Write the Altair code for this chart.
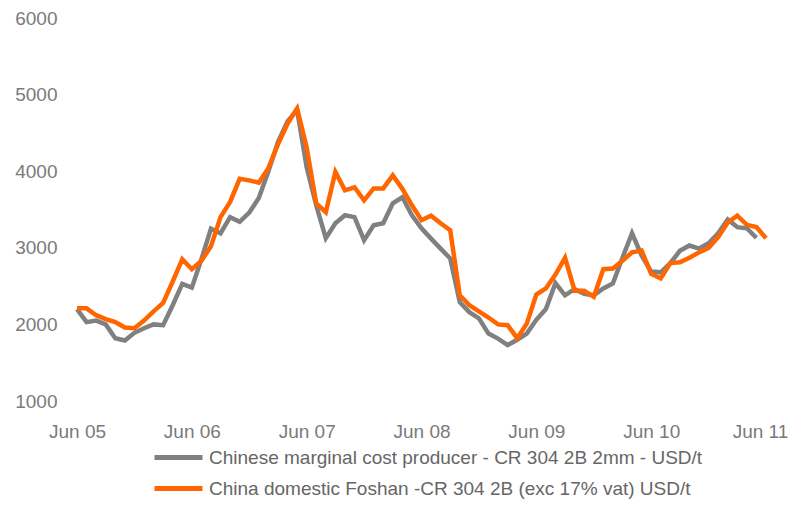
import altair as alt
import pandas as pd

series_names = [
    "Chinese marginal cost producer - CR 304 2B 2mm - USD/t",
    "China domestic Foshan -CR 304 2B (exc 17% vat) USD/t",
]
series_colors = ["#808080", "#FF6600"]

tick_labels = ["Jun 05", "Jun 06", "Jun 07", "Jun 08", "Jun 09", "Jun 10", "Jun 11"]

# Monthly values starting Jun 05
gray_values = [
    2200, 2030, 2050, 2000, 1820, 1790, 1890, 1950, 2000, 1990, 2250, 2530,
    2480, 2850, 3250, 3190, 3400, 3340, 3460, 3650, 4000, 4380, 4650, 4800,
    4050, 3555, 3125, 3320, 3425, 3400, 3100, 3295, 3320, 3580, 3660, 3425,
    3255, 3120, 2990, 2860, 2290, 2160, 2080, 1880, 1815, 1730, 1800, 1880,
    2060, 2200, 2540, 2380, 2460, 2400, 2380, 2470, 2535, 2870, 3190, 2900,
    2690, 2680, 2800, 2960, 3030, 2990, 3060, 3190, 3370, 3270, 3255, 3130,
]
orange_values = [
    2210, 2210, 2120, 2070, 2030, 1960, 1950, 2050, 2170, 2280, 2560, 2850,
    2720, 2830, 3020, 3400, 3600, 3900, 3880, 3850, 4040, 4350, 4620, 4820,
    4310, 3580, 3465, 3990, 3750, 3790, 3620, 3775, 3775, 3945, 3770, 3555,
    3360, 3420, 3320, 3230, 2380, 2250, 2170, 2090, 2000, 1990, 1820, 2010,
    2390, 2470, 2650, 2870, 2440, 2440, 2360, 2720, 2730, 2830, 2940, 2965,
    2660, 2600, 2800, 2810, 2870, 2940, 3000, 3140, 3330, 3420, 3300, 3270,
    3125,
]

rows = []
for i, v in enumerate(gray_values):
    rows.append({"m": i, "value": v, "series": series_names[0], "order": 0})
for i, v in enumerate(orange_values):
    rows.append({"m": i, "value": v, "series": series_names[1], "order": 1})
df = pd.DataFrame(rows)

label_expr = "[" + ",".join("'" + t + "'" for t in tick_labels) + "][round(datum.value / 12)]"

FONT = "Liberation Sans"

chart = (
    alt.Chart(df)
    .mark_line(strokeWidth=4.5, strokeJoin="miter", strokeCap="butt")
    .encode(
        x=alt.X(
            "m:Q",
            scale=alt.Scale(domain=[0, 72], nice=False, zero=False),
            axis=alt.Axis(
                title=None,
                values=[0, 12, 24, 36, 48, 60, 72],
                labelExpr=label_expr,
                labelFlush=False,
                labelOverlap=False,
                labelOffset={"condition": {"test": "datum.value == 72", "value": -6}, "value": 0},
                domain=False,
                ticks=False,
                grid=False,
                labelPadding=21,
                labelFontSize=19,
                labelFont=FONT,
                labelColor="#7a7a7a",
            ),
        ),
        y=alt.Y(
            "value:Q",
            scale=alt.Scale(domain=[1000, 6000], nice=False, zero=False),
            axis=alt.Axis(
                title=None,
                values=[1000, 2000, 3000, 4000, 5000, 6000],
                format="d",
                labelFlush=False,
                labelOverlap=False,
                domain=False,
                ticks=False,
                grid=False,
                labelPadding=20,
                labelFontSize=19,
                labelFont=FONT,
                labelColor="#7a7a7a",
            ),
        ),
        color=alt.Color(
            "series:N",
            scale=alt.Scale(domain=series_names, range=series_colors),
            legend=alt.Legend(
                title=None,
                orient="none",
                legendX=91,
                legendY=429,
                direction="vertical",
                symbolType="M-3,0H3",
                symbolSize=256,
                symbolStrokeWidth=5,
                labelFontSize=19,
                labelFont=FONT,
                labelColor="#666666",
                labelOffset=20,
                rowPadding=10,
                padding=0,
                labelLimit=700,
            ),
        ),
        order=alt.Order("order:Q"),
        detail="series:N",
    )
    .properties(
        width=689,
        height=383,
        padding={"left": 69, "top": 10, "right": 22, "bottom": 99},
        autosize=alt.AutoSizeParams(type="none"),
    )
    .configure_view(stroke=None)
)

chart.save("out.html", embed_options={"renderer": "svg", "actions": False})
